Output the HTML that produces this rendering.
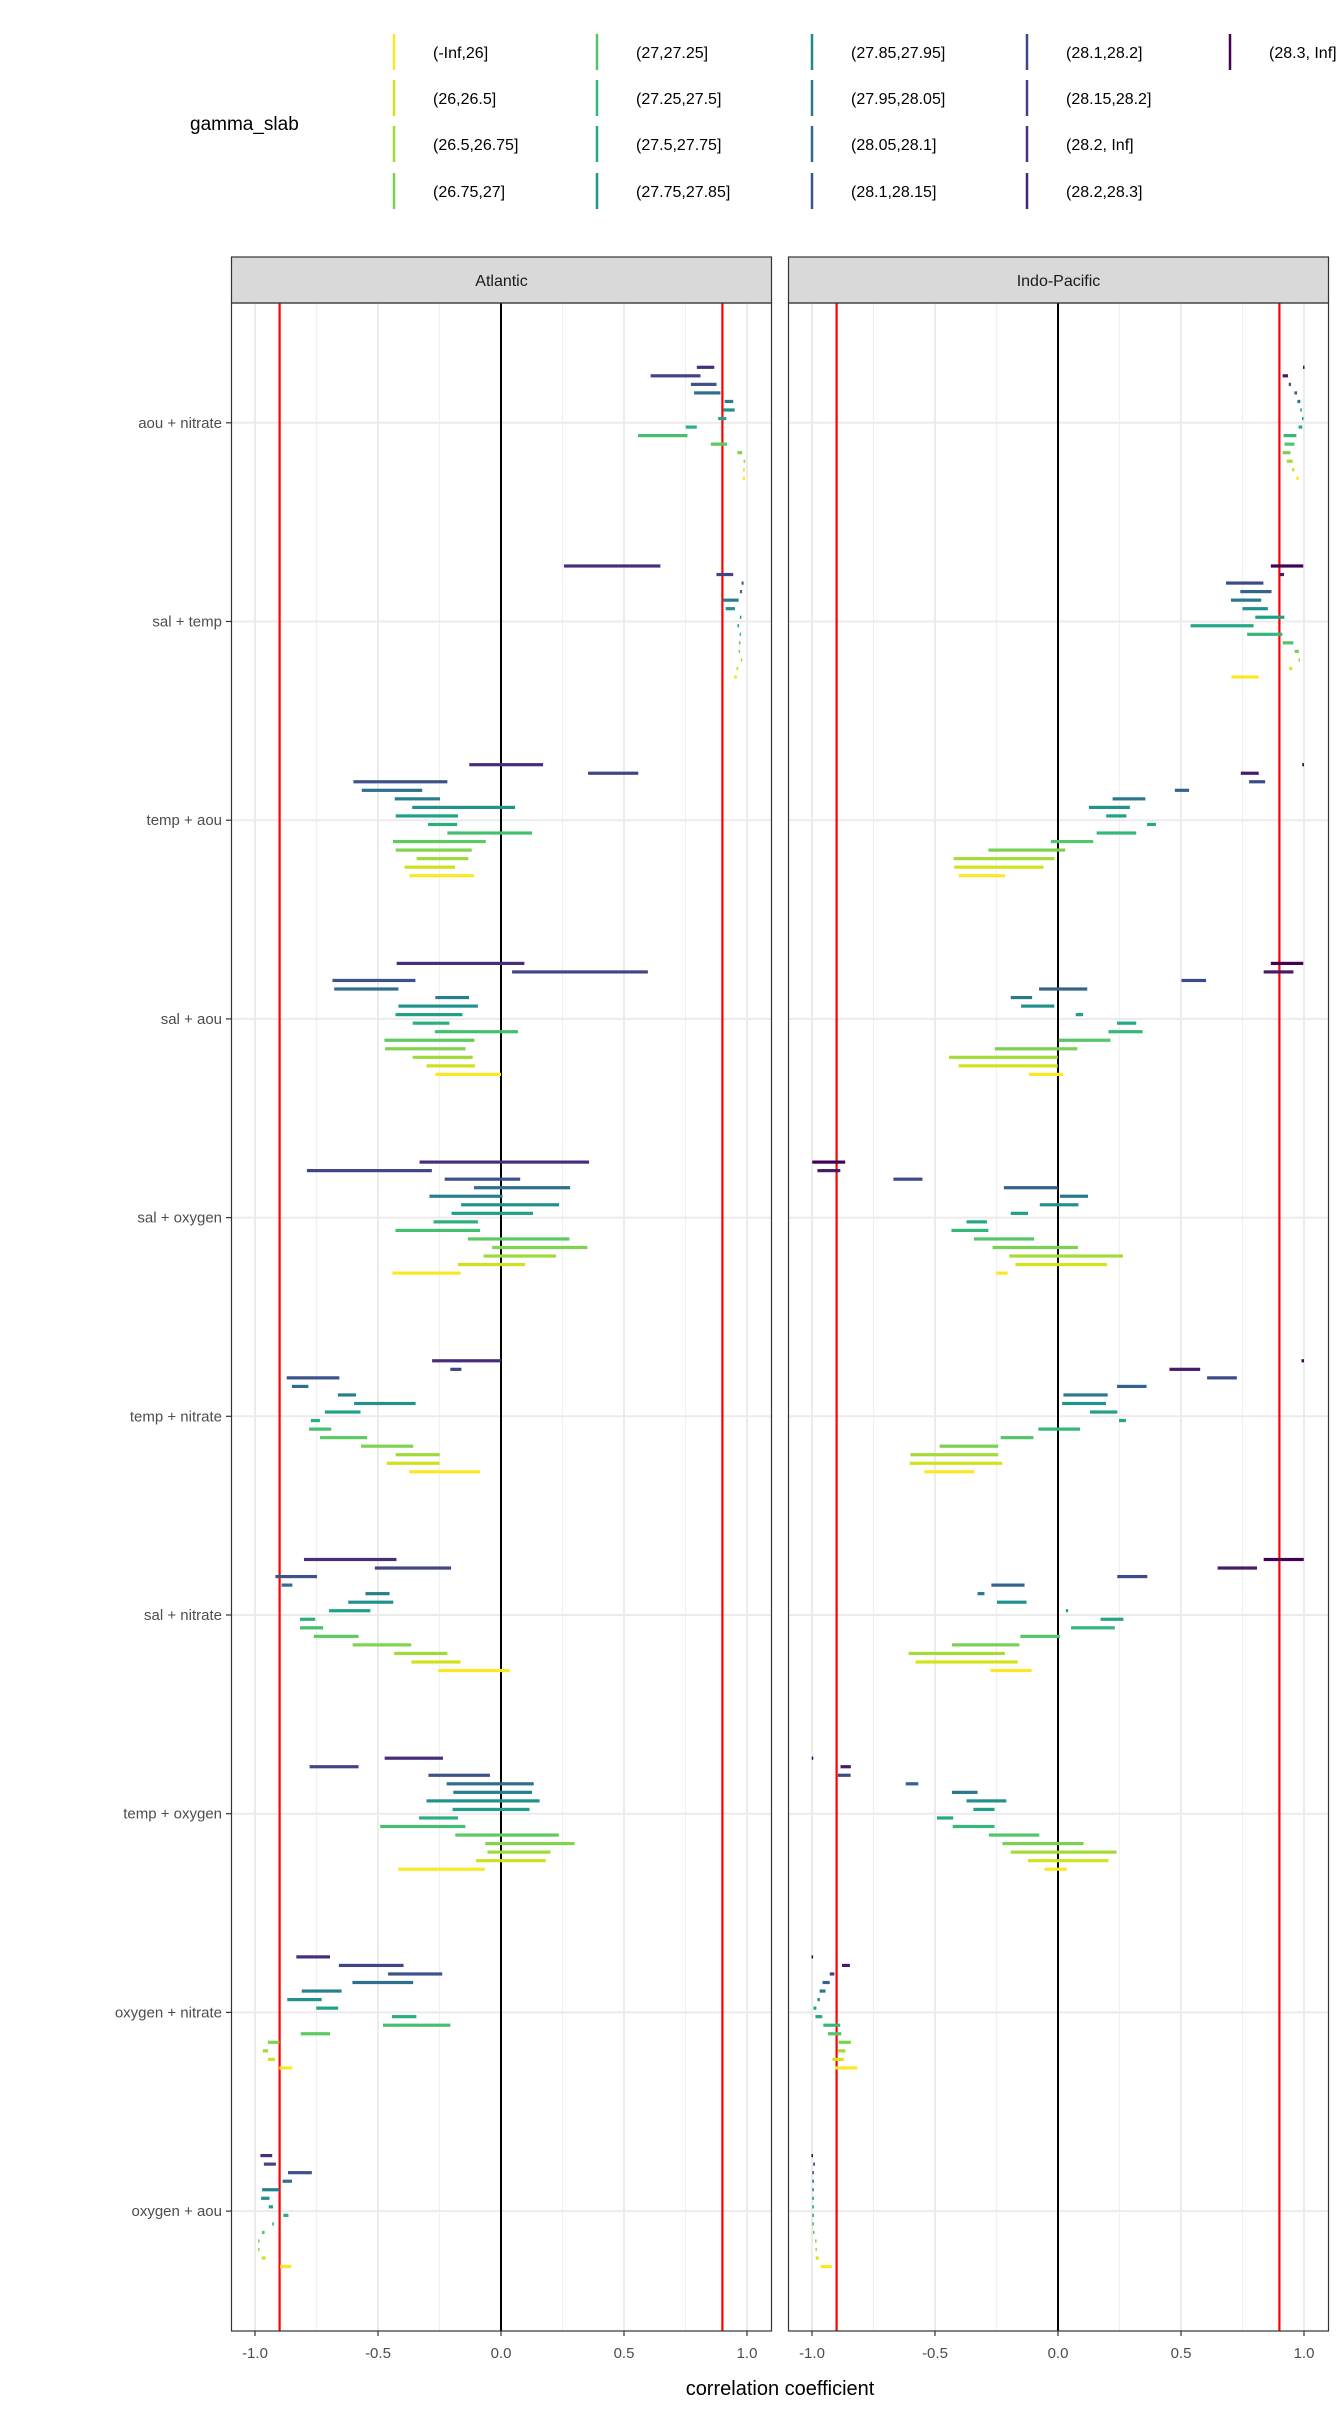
<!DOCTYPE html>
<html><head><meta charset="utf-8"><style>
html,body{margin:0;padding:0;background:#fff;width:1344px;height:2419px;overflow:hidden}
svg{display:block}
text{font-family:"Liberation Sans",sans-serif}
</style></head><body>
<svg id="chart" width="1344" height="2419" viewBox="0 0 1344 2419" xmlns="http://www.w3.org/2000/svg">
<g id="legend">
<text x="190" y="130" font-size="19" fill="#000">gamma_slab</text>
</g>
<g id="panels"></g>
<text x="780" y="2395" font-size="20" fill="#000" text-anchor="middle">correlation coefficient</text>
</svg>
<script>
const categories = ["aou + nitrate","sal + temp","temp + aou","sal + aou","sal + oxygen","temp + nitrate","sal + nitrate","temp + oxygen","oxygen + nitrate","oxygen + aou"];
const xTicks = [-1.0,-0.5,0.0,0.5,1.0];
const xTickLabels = ["-1.0","-0.5","0.0","0.5","1.0"];
const thresholds = [-0.9, 0.9];
const legendLevels = ["(-Inf,26]","(26,26.5]","(26.5,26.75]","(26.75,27]","(27,27.25]","(27.25,27.5]","(27.5,27.75]","(27.75,27.85]","(27.85,27.95]","(27.95,28.05]","(28.05,28.1]","(28.1,28.15]","(28.1,28.2]","(28.15,28.2]","(28.2, Inf]","(28.2,28.3]","(28.3, Inf]"];
const legendColors = ["#fde725","#d2e21b","#a5db36","#7ad151","#54c568","#35b779","#22a884","#1f988b","#23888e","#2a788e","#31688e","#39568c","#414487","#463e86","#482f7d","#482475","#440154"];
const atlColors = ["#472d7b","#414487","#3b528b","#2e6e8e","#277f8e","#21918c","#1fa088","#2ab07f","#44bf70","#5ec962","#7fd34e","#a0da39","#d0e11c","#fde725"];
const indColors = ["#440154","#481a6c","#3e4989","#33638d","#2a788e","#21918c","#1fa088","#22a884","#35b779","#54c568","#7ad151","#a5db36","#d2e21b","#fde725"];

const atlLo = [
[0.796,0.608,0.772,0.785,0.909,0.903,0.883,0.751,0.557,0.853,0.961,0.986,0.986,0.983],
[0.256,0.876,0.978,0.971,0.903,0.913,0.972,0.961,0.971,0.969,0.966,0.975,0.957,0.947],
[-0.129,0.354,-0.600,-0.566,-0.432,-0.361,-0.428,-0.297,-0.218,-0.439,-0.428,-0.343,-0.392,-0.372],
[-0.424,0.045,-0.685,-0.678,-0.267,-0.417,-0.429,-0.359,-0.269,-0.474,-0.471,-0.359,-0.303,-0.267],
[-0.331,-0.789,-0.229,-0.110,-0.291,-0.162,-0.201,-0.274,-0.429,-0.134,-0.036,-0.071,-0.175,-0.441],
[-0.280,-0.206,-0.871,-0.850,-0.663,-0.597,-0.716,-0.773,-0.780,-0.736,-0.569,-0.428,-0.464,-0.373],
[-0.801,-0.513,-0.917,-0.892,-0.551,-0.621,-0.699,-0.817,-0.817,-0.761,-0.603,-0.434,-0.364,-0.256],
[-0.473,-0.778,-0.295,-0.221,-0.194,-0.303,-0.197,-0.333,-0.491,-0.186,-0.064,-0.055,-0.101,-0.418],
[-0.832,-0.659,-0.459,-0.604,-0.810,-0.869,-0.751,-0.443,-0.480,-0.814,-0.947,-0.968,-0.947,-0.901],
[-0.978,-0.964,-0.866,-0.888,-0.971,-0.975,-0.944,-0.885,-0.930,-0.972,-0.987,-0.987,-0.973,-0.898]];
const atlHi = [
[0.867,0.811,0.876,0.892,0.944,0.950,0.916,0.796,0.758,0.919,0.980,0.993,0.989,0.992],
[0.648,0.944,0.986,0.980,0.966,0.951,0.976,0.968,0.975,0.972,0.972,0.980,0.964,0.959],
[0.171,0.558,-0.218,-0.320,-0.248,0.057,-0.175,-0.178,0.126,-0.062,-0.119,-0.133,-0.187,-0.110],
[0.095,0.597,-0.348,-0.417,-0.130,-0.094,-0.157,-0.210,0.069,-0.108,-0.144,-0.115,-0.106,0.000],
[0.358,-0.281,0.078,0.281,0.006,0.236,0.130,-0.094,-0.085,0.278,0.351,0.224,0.098,-0.164],
[0.000,-0.161,-0.657,-0.783,-0.589,-0.347,-0.571,-0.736,-0.690,-0.544,-0.357,-0.249,-0.250,-0.085],
[-0.425,-0.203,-0.748,-0.848,-0.453,-0.438,-0.531,-0.755,-0.723,-0.579,-0.365,-0.218,-0.165,0.036],
[-0.236,-0.579,-0.045,0.133,0.126,0.157,0.116,-0.175,-0.145,0.235,0.299,0.201,0.182,-0.066],
[-0.695,-0.396,-0.239,-0.357,-0.648,-0.729,-0.662,-0.344,-0.206,-0.695,-0.901,-0.947,-0.919,-0.849],
[-0.930,-0.915,-0.769,-0.850,-0.901,-0.941,-0.927,-0.864,-0.923,-0.961,-0.982,-0.983,-0.957,-0.852]];
const indLo = [
[0.998,0.913,0.938,0.961,0.973,0.986,0.993,0.978,0.917,0.921,0.913,0.930,0.951,0.969],
[0.865,0.902,0.683,0.741,0.703,0.750,0.802,0.539,0.769,0.913,0.962,0.978,0.940,0.705],
[0.993,0.743,0.777,0.475,0.222,0.126,0.196,0.362,0.157,-0.029,-0.283,-0.424,-0.422,-0.403],
[0.865,0.836,0.502,-0.077,-0.192,-0.150,0.072,0.240,0.205,0.003,-0.257,-0.443,-0.404,-0.118],
[-0.999,-0.978,-0.669,-0.220,0.008,-0.074,-0.192,-0.372,-0.433,-0.342,-0.266,-0.198,-0.173,-0.251],
[0.990,0.453,0.606,0.240,0.022,0.017,0.130,0.248,-0.080,-0.233,-0.481,-0.600,-0.603,-0.543],
[0.836,0.649,0.241,-0.271,-0.327,-0.248,0.032,0.173,0.053,-0.153,-0.431,-0.607,-0.579,-0.275],
[-1.0,-0.884,-0.895,-0.619,-0.431,-0.372,-0.344,-0.492,-0.428,-0.281,-0.226,-0.192,-0.122,-0.055],
[-1.0,-0.878,-0.928,-0.957,-0.969,-0.978,-0.994,-0.986,-0.954,-0.935,-0.892,-0.895,-0.917,-0.907],
[-1.0,-0.994,-0.997,-0.997,-0.997,-0.997,-0.997,-0.997,-0.997,-0.996,-0.986,-0.985,-0.985,-0.965]];
const indHi = [
[1.0,0.935,0.947,0.972,0.985,0.990,0.997,0.993,0.969,0.961,0.945,0.954,0.961,0.979],
[0.997,0.919,0.835,0.868,0.826,0.853,0.920,0.795,0.912,0.957,0.979,0.983,0.952,0.816],
[1.0,0.816,0.842,0.533,0.355,0.292,0.278,0.398,0.318,0.143,0.029,-0.015,-0.059,-0.215],
[0.997,0.957,0.602,0.119,-0.105,-0.015,0.102,0.318,0.344,0.213,0.079,-0.001,-0.001,0.021],
[-0.865,-0.885,-0.551,-0.001,0.122,0.083,-0.122,-0.289,-0.283,-0.097,0.081,0.264,0.199,-0.205],
[1.0,0.578,0.727,0.360,0.202,0.195,0.241,0.276,0.090,-0.100,-0.243,-0.243,-0.227,-0.341],
[0.999,0.809,0.363,-0.136,-0.299,-0.128,0.041,0.266,0.231,0.008,-0.157,-0.216,-0.164,-0.107],
[-0.996,-0.842,-0.843,-0.568,-0.327,-0.210,-0.258,-0.426,-0.258,-0.076,0.104,0.238,0.205,0.036],
[-0.997,-0.846,-0.909,-0.928,-0.945,-0.968,-0.982,-0.958,-0.885,-0.881,-0.842,-0.864,-0.871,-0.816],
[-0.998,-0.989,-0.994,-0.994,-0.994,-0.994,-0.994,-0.994,-0.994,-0.990,-0.983,-0.981,-0.973,-0.920]];

const NS = "http://www.w3.org/2000/svg";
function mk(tag, attrs, parent){const e=document.createElementNS(NS,tag);for(const k in attrs)e.setAttribute(k,attrs[k]);parent.appendChild(e);return e;}

const leg = document.getElementById('legend');
const legColX = [394,597,812,1027,1230];
const legRowY = [52,98,144,191];
legendLevels.forEach((lab,i)=>{
  const c=Math.floor(i/4), r=i%4;
  const g=mk('g',{},leg);
  
  
  mk('line',{x1:legColX[c],x2:legColX[c],y1:legRowY[r]-18,y2:legRowY[r]+18,stroke:legendColors[i],'stroke-width':2.5},g);
  const t=mk('text',{x:legColX[c]+39,y:legRowY[r]+6,'font-size':16,fill:'#000'},g);
  t.textContent=lab;
});

const panelTop=303, panelBot=2331, stripTop=257;
const yCat = i => 422.8 + i*198.7;
const rowStep = 8.54;
const panels = [
  {name:"Atlantic", left:231, right:772, x0:501, lo:atlLo, hi:atlHi, colors:atlColors, showY:true},
  {name:"Indo-Pacific", left:788, right:1329, x0:1058, lo:indLo, hi:indHi, colors:indColors, showY:false}
];
const root=document.getElementById('panels');
panels.forEach(p=>{
  const xs = v => p.x0 + 246*v;
  const g=mk('g',{},root);
  
  
  const s=mk('rect',{x:p.left+0.5,y:stripTop,width:p.right-p.left-1,height:panelTop-stripTop,fill:'#d9d9d9',stroke:'#333',"stroke-width":1.2},g);
  
  
  const st=mk('text',{x:(p.left+p.right)/2,y:286,'text-anchor':'middle','font-size':16,fill:'#1a1a1a'},g);
  st.textContent=p.name;
  [-0.75,-0.25,0.25,0.75].forEach(v=>mk('line',{x1:xs(v),x2:xs(v),y1:panelTop,y2:panelBot,stroke:'#f0f0f0','stroke-width':1.2},g));
  xTicks.forEach(v=>mk('line',{x1:xs(v),x2:xs(v),y1:panelTop,y2:panelBot,stroke:'#ebebeb','stroke-width':2},g));
  categories.forEach((c,i)=>mk('line',{x1:p.left,x2:p.right,y1:yCat(i),y2:yCat(i),stroke:'#ebebeb','stroke-width':2},g));
  thresholds.forEach(v=>{
    const l=mk('line',{x1:xs(v),x2:xs(v),y1:panelTop,y2:panelBot,stroke:'#ff0000','stroke-width':2.2},g);
    
    
  });
  const z=mk('line',{x1:xs(0),x2:xs(0),y1:panelTop,y2:panelBot,stroke:'#000','stroke-width':2},g);
  
  
  categories.forEach((c,i)=>{
    p.lo[i].forEach((lo,j)=>{
      const hi=p.hi[i][j];
      let x1=xs(lo), x2=xs(hi);
      if(x2-x1<1.5){const m=(x1+x2)/2;x1=m-0.75;x2=m+0.75;}
      const y=yCat(i)+(j-6.5)*rowStep;
      const r=mk('rect',{x:x1,y:y-1.6,width:x2-x1,height:3.2,fill:p.colors[j]},g);
      
      
    });
  });
  mk('rect',{x:p.left+0.5,y:panelTop,width:p.right-p.left-1,height:panelBot-panelTop,fill:'none',stroke:'#333','stroke-width':1.2},g);
  xTicks.forEach((v,k)=>{
    mk('line',{x1:xs(v),x2:xs(v),y1:panelBot,y2:panelBot+5,stroke:'#333','stroke-width':1.2},g);
    const t=mk('text',{x:xs(v),y:panelBot+27,'text-anchor':'middle','font-size':15,fill:'#4d4d4d'},g);
    
    
    t.textContent=xTickLabels[k];
  });
  if(p.showY){
    categories.forEach((c,i)=>{
      mk('line',{x1:p.left-5,x2:p.left,y1:yCat(i),y2:yCat(i),stroke:'#333','stroke-width':1.2},g);
      const t=mk('text',{x:p.left-9,y:yCat(i)+5,'text-anchor':'end','font-size':15,fill:'#4d4d4d'},g);
      
      
      t.textContent=c;
    });
  }
});
</script>
</body></html>
